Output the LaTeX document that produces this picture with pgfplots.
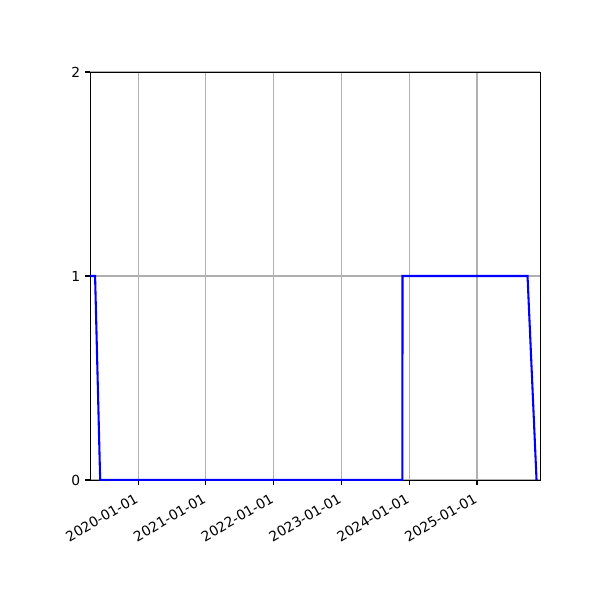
\documentclass[border=0pt]{standalone}
\usepackage{fontspec}
\setmainfont{DejaVu Sans}
\usepackage{pgfplots}
\pgfplotsset{compat=1.18}
\definecolor{gridgray}{HTML}{B0B0B0}

\begin{document}
\begin{tikzpicture}[x=1pt,y=1pt]
\useasboundingbox[fill=white] (-65.04,-86.72) rectangle (368.56,346.89);
\begin{axis}[
    at={(0,0)}, anchor=south west,
    scale only axis,
    width=325.2pt, height=294.86pt,
    xmin=2019.29, xmax=2025.93,
    ymin=0, ymax=2,
    xtick={2020,2021,2022,2023,2024,2025},
    xticklabels={2020-01-01,2021-01-01,2022-01-01,2023-01-01,2024-01-01,2025-01-01},
    ytick={0,1,2},
    x tick label style={rotate=30, anchor=north east, xshift=-2pt, font=\fontsize{10}{12}\selectfont},
    y tick label style={font=\fontsize{10}{12}\selectfont},
    /pgf/number format/assume math mode=true,
    tick pos=left,
    tick align=outside,
    major tick length=3.5pt,
    every tick/.style={black, line width=0.8pt},
    axis line style={line width=0.6pt},
    xmajorgrids, ymajorgrids,
    grid style={gridgray, line width=0.8pt},
    axis on top=false,
    clip=true,
]
\addplot[blue, line width=1.5pt] coordinates {
    (2019.29,1) (2019.365,1) (2019.44,0) (2023.90,0) (2023.901,1)
    (2025.746,1) (2025.879,0)
};
\end{axis}
\end{tikzpicture}
\end{document}
